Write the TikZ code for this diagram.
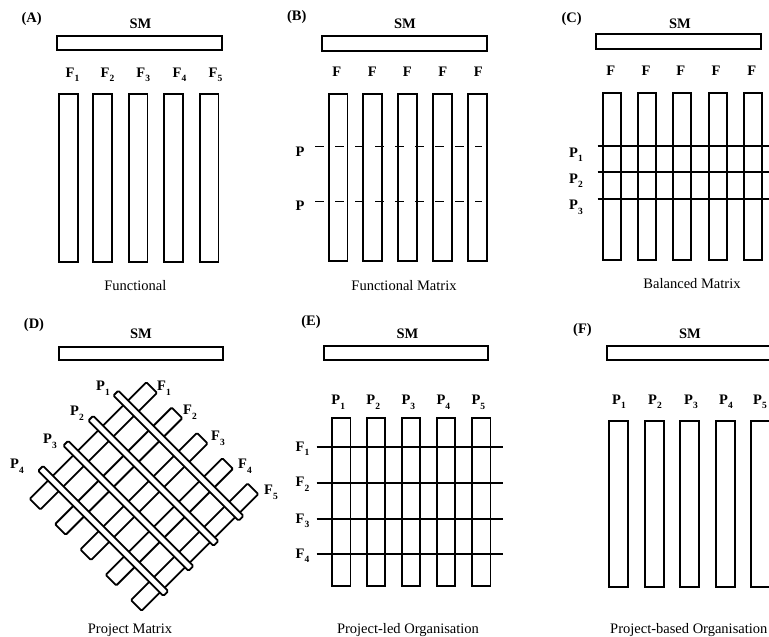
\documentclass[tikz,border=0pt]{standalone}
\usepackage{fontspec}
\setmainfont{Liberation Serif}
\newcommand\sbx[2]{#1\raisebox{-0.32em}{\fontsize{9.5}{10}\selectfont #2}}
\tikzset{
  box/.style={draw, line width=1.8pt, fill=white},
  dbar/.style={draw, line width=1.8pt, fill=white, rounded corners=1.2pt},
  lab/.style={font=\fontsize{14.5}{17}\selectfont\bfseries, inner sep=0pt, anchor=base},
  labc/.style={font=\fontsize{14.5}{17}\selectfont\bfseries, inner sep=0pt, anchor=center},
  captxt/.style={font=\fontsize{14.5}{17}\selectfont, inner sep=0pt, anchor=base},
  gridline/.style={line width=1.8pt},
  dashline/.style={line width=1.4pt, dash pattern=on 9pt off 11pt},
}
\begin{document}
\begin{tikzpicture}[x=1pt,y=-1pt]
\useasboundingbox (0,0) rectangle (769,637);
\clip (0,0) rectangle (769,637);

% ---------------- (A) Functional
\node[lab] (tA) at (31.7,22) {(A)};
\node[lab] (smA) at (140.5,28.3) {SM};
\draw[box] (56.7,36) rectangle (221.7,50);
\foreach \l/\n/\xc in {59.3/1/72.5, 93.3/2/107.5, 129/3/143.3, 164.3/4/179.5, 200/5/215.5}{
  \draw[box] (\l,94) rectangle ({\l+18.5},261.7);
  \node[lab] (fA\n) at (\xc,77) {\sbx{F}{\n}};
}
\node[captxt] (cA) at (135.3,290) {Functional};

% ---------------- (B) Functional Matrix
\node[lab] (tB) at (296.7,20.5) {(B)};
\node[lab] (smB) at (405,28) {SM};
\draw[box] (321.7,35.7) rectangle (486.7,51);
\foreach \l/\n/\xc in {329/1/336.7, 363.3/2/372.3, 398.3/3/407.3, 433.3/4/442.7, 468.3/5/478.3}{
  \draw[box] (\l,94.3) rectangle ({\l+18.5},260.7);
  \node[lab] (fB\n) at (\xc,76.7) {F};
}
\node[lab] (pB1) at (300,156) {P};
\node[lab] (pB2) at (300,210) {P};
\coordinate (bl1) at (315,146.5);
\coordinate (br1) at (482,146.5);
\coordinate (bl2) at (315,201.5);
\coordinate (br2) at (482,201.5);
\draw[dashline] (bl1) -- (br1);
\draw[dashline] (bl2) -- (br2);
\node[captxt] (cB) at (404,290) {Functional Matrix};

% ---------------- (C) Balanced Matrix
\node[lab] (tC) at (571.7,22) {(C)};
\node[lab] (smC) at (680,28) {SM};
\draw[box] (596,34) rectangle (760.7,49.3);
\foreach \l/\n/\xc in {602.7/1/610.7, 638.3/2/646, 673.3/3/680.7, 709/4/716, 744.3/5/751.7}{
  \draw[box] (\l,93.3) rectangle ({\l+18},260);
  \node[lab] (fC\n) at (\xc,75) {F};
}
\foreach \n/\y/\b in {1/145.7/157, 2/172.3/183, 3/199.3/209.5}{
  \coordinate (cl\n) at (597.7,\y);
  \coordinate (cr\n) at (775,\y);
  \draw[gridline] (cl\n) -- (cr\n);
  \node[lab] (pC\n) at (576,\b) {\sbx{P}{\n}};
}
\node[captxt] (cC) at (692,288.3) {Balanced Matrix};

% ---------------- (D) Project Matrix
\node[lab] (tD) at (34,328) {(D)};
\node[lab] (smD) at (141,338) {SM};
\draw[box] (59.3,346.7) rectangle (223.3,360);
\begin{scope}[shift={(144,496.5)}, rotate=-45]
  \foreach \x in {-71.6,-35.8,0,35.8,71.6}
    \draw[dbar] ({\x-7.5},-82.5) rectangle ({\x+7.5},82.5);
  \foreach \y in {-53.2,-17.7,17.7,53.2}
    \draw[dbar] (-93,{\y-3.4}) rectangle (84,{\y+3.4});
\end{scope}
\node[labc] (pD1) at (103,388) {\sbx{P}{1}};
\node[labc] (pD2) at (77,413) {\sbx{P}{2}};
\node[labc] (pD3) at (50,441) {\sbx{P}{3}};
\node[labc] (pD4) at (17,466) {\sbx{P}{4}};
\node[labc] (fD1) at (164,388) {\sbx{F}{1}};
\node[labc] (fD2) at (190,412) {\sbx{F}{2}};
\node[labc] (fD3) at (218,438) {\sbx{F}{3}};
\node[labc] (fD4) at (245,466) {\sbx{F}{4}};
\node[labc] (fD5) at (271,492) {\sbx{F}{5}};
\node[captxt] (cD) at (130,633) {Project Matrix};

% ---------------- (E) Project-led Organisation
\node[lab] (tE) at (311,325) {(E)};
\node[lab] (smE) at (407.5,338) {SM};
\draw[box] (324.3,345.7) rectangle (488.3,360);
\foreach \l/\n/\xc in {332.3/1/338.3, 366.7/2/373.3, 401.7/3/408.3, 436.7/4/443.3, 472.3/5/478.3}{
  \draw[box] (\l,418.3) rectangle ({\l+18.2},585.7);
  \node[lab] (pE\n) at (\xc,404.5) {\sbx{P}{\n}};
}
\foreach \n/\y in {1/447.3, 2/482.7, 3/519, 4/554.3}{
  \coordinate (el\n) at (316.7,\y);
  \coordinate (er\n) at (503.3,\y);
  \draw[gridline] (el\n) -- (er\n);
  \node[lab] (fE\n) at (302.5,{\y+4}) {\sbx{F}{\n}};
}
\node[captxt] (cE) at (408,633) {Project-led Organisation};

% ---------------- (F) Project-based Organisation
\node[lab] (tF) at (582.5,333) {(F)};
\node[lab] (smF) at (690,338) {SM};
\draw[box] (607.3,345.7) rectangle (775,360);
\foreach \l/\n/\xc in {609.3/1/619, 645/2/655, 680/3/691, 715.7/4/726, 751/5/760}{
  \draw[box] (\l,421) rectangle ({\l+19},587.3);
  \node[lab] (pF\n) at (\xc,404) {\sbx{P}{\n}};
}
\node[captxt, anchor=base west] (cF) at (610,633) {Project-based Organisation};
\end{tikzpicture}
\end{document}
